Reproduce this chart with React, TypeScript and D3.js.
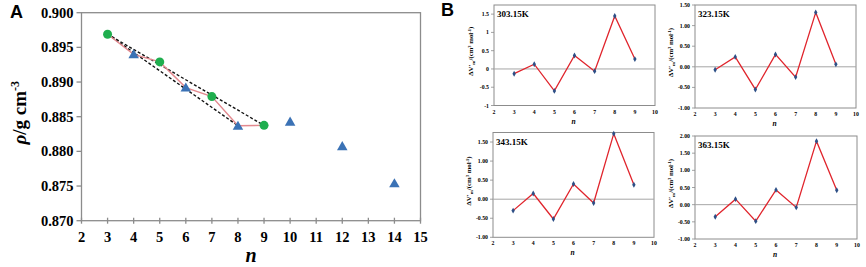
import React from "react";
import * as d3 from "d3";

// Panel A data
const oddN = [3, 5, 7, 9];
const oddRho = [0.8969, 0.8929, 0.8879, 0.88375];
const evenN = [4, 6, 8, 10, 12, 14];
const evenRho = [0.894, 0.8892, 0.8837, 0.88428, 0.88076, 0.8754];
const zigzagN = [3, 4, 5, 6, 7, 8, 9];
const zigzagRho = [0.8969, 0.894, 0.8929, 0.8892, 0.8879, 0.8837, 0.88375];
const xTicksA = [2, 3, 4, 5, 6, 7, 8, 9, 10, 11, 12, 13, 14, 15];
const yTicksA = [0.87, 0.875, 0.88, 0.885, 0.89, 0.895, 0.9];

// Panel B data
const nB = [3, 4, 5, 6, 7, 8, 9];
const temps = ["303.15K", "323.15K", "343.15K", "363.15K"];
const v303 = [-0.13, 0.13, -0.6, 0.37, -0.06, 1.45, 0.27];
const v323 = [-0.07, 0.24, -0.55, 0.3, -0.25, 1.32, 0.06];
const v343 = [-0.3, 0.15, -0.52, 0.4, -0.1, 1.72, 0.38];
const v363 = [-0.35, 0.16, -0.48, 0.43, -0.08, 1.85, 0.42];
const xTicksB = [2, 3, 4, 5, 6, 7, 8, 9, 10];
const yMaxB = [1.75, 1.5, 1.75, 2];
const yTopTickB = [1.5, 1.5, 1.5, 2];

const serif = "Liberation Serif, DejaVu Serif, serif";
const sans = "Liberation Sans, Arial, sans-serif";
const frame = "#8c8c8c";

function PanelA() {
  const x = d3.scaleLinear().domain([2, 15]).range([81.5, 420.5]);
  const y = d3.scaleLinear().domain([0.87, 0.9]).range([220.7, 12.7]);
  const line = d3.line<[number, number]>().x((d) => x(d[0])).y((d) => y(d[1]));
  const zig = zigzagN.map((n, i) => [n, zigzagRho[i]] as [number, number]);
  const dashOdd: [number, number][] = [
    [oddN[0], oddRho[0]],
    [oddN[oddN.length - 1], oddRho[oddRho.length - 1]],
  ];
  const dashEven: [number, number][] = [
    [oddN[0], oddRho[0]],
    [evenN[2], evenRho[2]],
  ];
  const tri = d3.symbol().type(d3.symbolTriangle).size(48)();
  return (
    <g>
      <text x={10} y={18} style={{ fontFamily: sans, fontWeight: 700, fontSize: 18 }}>A</text>
      <rect x={x(2)} y={y(0.9)} width={x(15) - x(2)} height={y(0.87) - y(0.9)} fill="none" stroke={frame} strokeWidth={1.3} />
      {yTicksA.map((t) => (
        <g key={t}>
          <line x1={x(2) - 5} x2={x(2)} y1={y(t)} y2={y(t)} stroke={frame} strokeWidth={1.3} />
          <text x={x(2) - 8} y={y(t)} dy="0.35em" textAnchor="end" style={{ fontFamily: serif, fontWeight: 700, fontSize: 14.5 }}>
            {d3.format(".3f")(t)}
          </text>
        </g>
      ))}
      {xTicksA.map((t) => (
        <g key={t}>
          <line x1={x(t)} x2={x(t)} y1={y(0.87) - 3} y2={y(0.87) + 3} stroke={frame} strokeWidth={1.3} />
          <text x={x(t)} y={y(0.87) + 21} textAnchor="middle" style={{ fontFamily: serif, fontWeight: 700, fontSize: 14.5 }}>
            {t}
          </text>
        </g>
      ))}
      <text transform={`translate(26,${(y(0.87) + y(0.9)) / 2 - 4}) rotate(-90)`} textAnchor="middle" style={{ fontFamily: serif, fontWeight: 700, fontSize: 19 }}>
        <tspan style={{ fontStyle: "italic" }}>ρ</tspan>/g cm<tspan dy={-7} style={{ fontSize: 12 }}>-3</tspan>
      </text>
      <text x={(x(2) + x(15)) / 2} y={262} textAnchor="middle" style={{ fontFamily: serif, fontWeight: 700, fontStyle: "italic", fontSize: 20 }}>n</text>
      <path d={line(dashOdd) || ""} fill="none" stroke="#111" strokeWidth={1.4} strokeDasharray="3,2" />
      <path d={line(dashEven) || ""} fill="none" stroke="#111" strokeWidth={1.4} strokeDasharray="3,2" />
      <path d={line(zig) || ""} fill="none" stroke="#e3898f" strokeWidth={1.4} />
      {evenN.map((n, i) => (
        <path key={n} d={tri || ""} transform={`translate(${x(n)},${y(evenRho[i]) + 1})`} fill="#3b72b5" />
      ))}
      {oddN.map((n, i) => (
        <circle key={n} cx={x(n)} cy={y(oddRho[i])} r={4.5} fill="#1fae4e" />
      ))}
    </g>
  );
}

type Box = { x0: number; x1: number; y0: number; y1: number; labelX: number };
const boxes: Box[] = [
  { x0: 494, x1: 655, y0: 5, y1: 105.5, labelX: 473 },
  { x0: 695, x1: 856, y0: 5, y1: 108, labelX: 673 },
  { x0: 493, x1: 654, y0: 132.5, y1: 237.3, labelX: 471 },
  { x0: 695, x1: 857, y0: 136, y1: 239, labelX: 673 },
];
const seriesB = [v303, v323, v343, v363];

function SubPlot({ idx }: { idx: number }) {
  const b = boxes[idx];
  const vals = seriesB[idx];
  const x = d3.scaleLinear().domain([2, 10]).range([b.x0, b.x1]);
  const y = d3.scaleLinear().domain([-1, yMaxB[idx]]).range([b.y1, b.y0]);
  const yTicks = d3.range(-1, yTopTickB[idx] + 0.001, 0.5);
  const fmt = idx === 0 ? (v: number) => String(+v.toFixed(1)) : (v: number) => d3.format(".2f")(v).replace("−", "-");
  const line = d3.line<number>().x((_, i) => x(nB[i])).y((d) => y(d));
  const diamond = d3.symbol().type(d3.symbolDiamond).size(10)();
  const tickStyle = { fontFamily: serif, fontWeight: 700, fontSize: 5.8 };
  return (
    <g>
      <rect x={b.x0} y={b.y0} width={b.x1 - b.x0} height={b.y1 - b.y0} fill="none" stroke={frame} strokeWidth={1} />
      <line x1={b.x0} x2={b.x1} y1={y(0)} y2={y(0)} stroke="#a6a6a6" strokeWidth={1} />
      {yTicks.map((t) => (
        <g key={t}>
          <line x1={b.x0 - 3} x2={b.x0} y1={y(t)} y2={y(t)} stroke={frame} strokeWidth={0.8} />
          <text x={b.x0 - 5} y={y(t)} dy="0.35em" textAnchor="end" style={tickStyle}>
            {fmt(t)}
          </text>
        </g>
      ))}
      {xTicksB.map((t) => (
        <text key={t} x={x(t)} y={b.y1 + 8} textAnchor="middle" style={tickStyle}>
          {t}
        </text>
      ))}
      <text x={(b.x0 + b.x1) / 2 - 1} y={b.y1 + 18} textAnchor="middle" style={{ fontFamily: serif, fontWeight: 700, fontStyle: "italic", fontSize: 7.5 }}>n</text>
      <text transform={`translate(${b.labelX},${(b.y0 + b.y1) / 2 - 4}) rotate(-90)`} textAnchor="middle" style={{ fontFamily: serif, fontWeight: 700, fontSize: 6.8 }}>
        ΔV′<tspan dy={1.5} style={{ fontSize: 5 }}>m</tspan>
        <tspan dy={-1.5}>/(cm</tspan>
        <tspan dy={-2.5} style={{ fontSize: 4.5 }}>3</tspan>
        <tspan dy={2.5}> mol</tspan>
        <tspan dy={-2.5} style={{ fontSize: 4.5 }}>-1</tspan>
        <tspan dy={2.5}>)</tspan>
      </text>
      <text x={b.x0 + 3} y={b.y0 + 12} style={{ fontFamily: serif, fontWeight: 700, fontSize: 9 }}>{temps[idx]}</text>
      <path d={line(vals) || ""} fill="none" stroke="#e0242c" strokeWidth={1.3} />
      {vals.map((v, i) => (
        <path key={i} d={diamond || ""} transform={`translate(${x(nB[i])},${y(v)})`} fill="#2d4f86" />
      ))}
    </g>
  );
}

export default function App() {
  return (
    <svg width={866} height={267} style={{ position: "absolute", left: 0, top: 0, background: "#fff" }}>
      <rect width={866} height={267} fill="#fff" />
      <PanelA />
      <text x={441} y={16} style={{ fontFamily: sans, fontWeight: 700, fontSize: 18 }}>B</text>
      {[0, 1, 2, 3].map((i) => (
        <SubPlot key={i} idx={i} />
      ))}
    </svg>
  );
}
